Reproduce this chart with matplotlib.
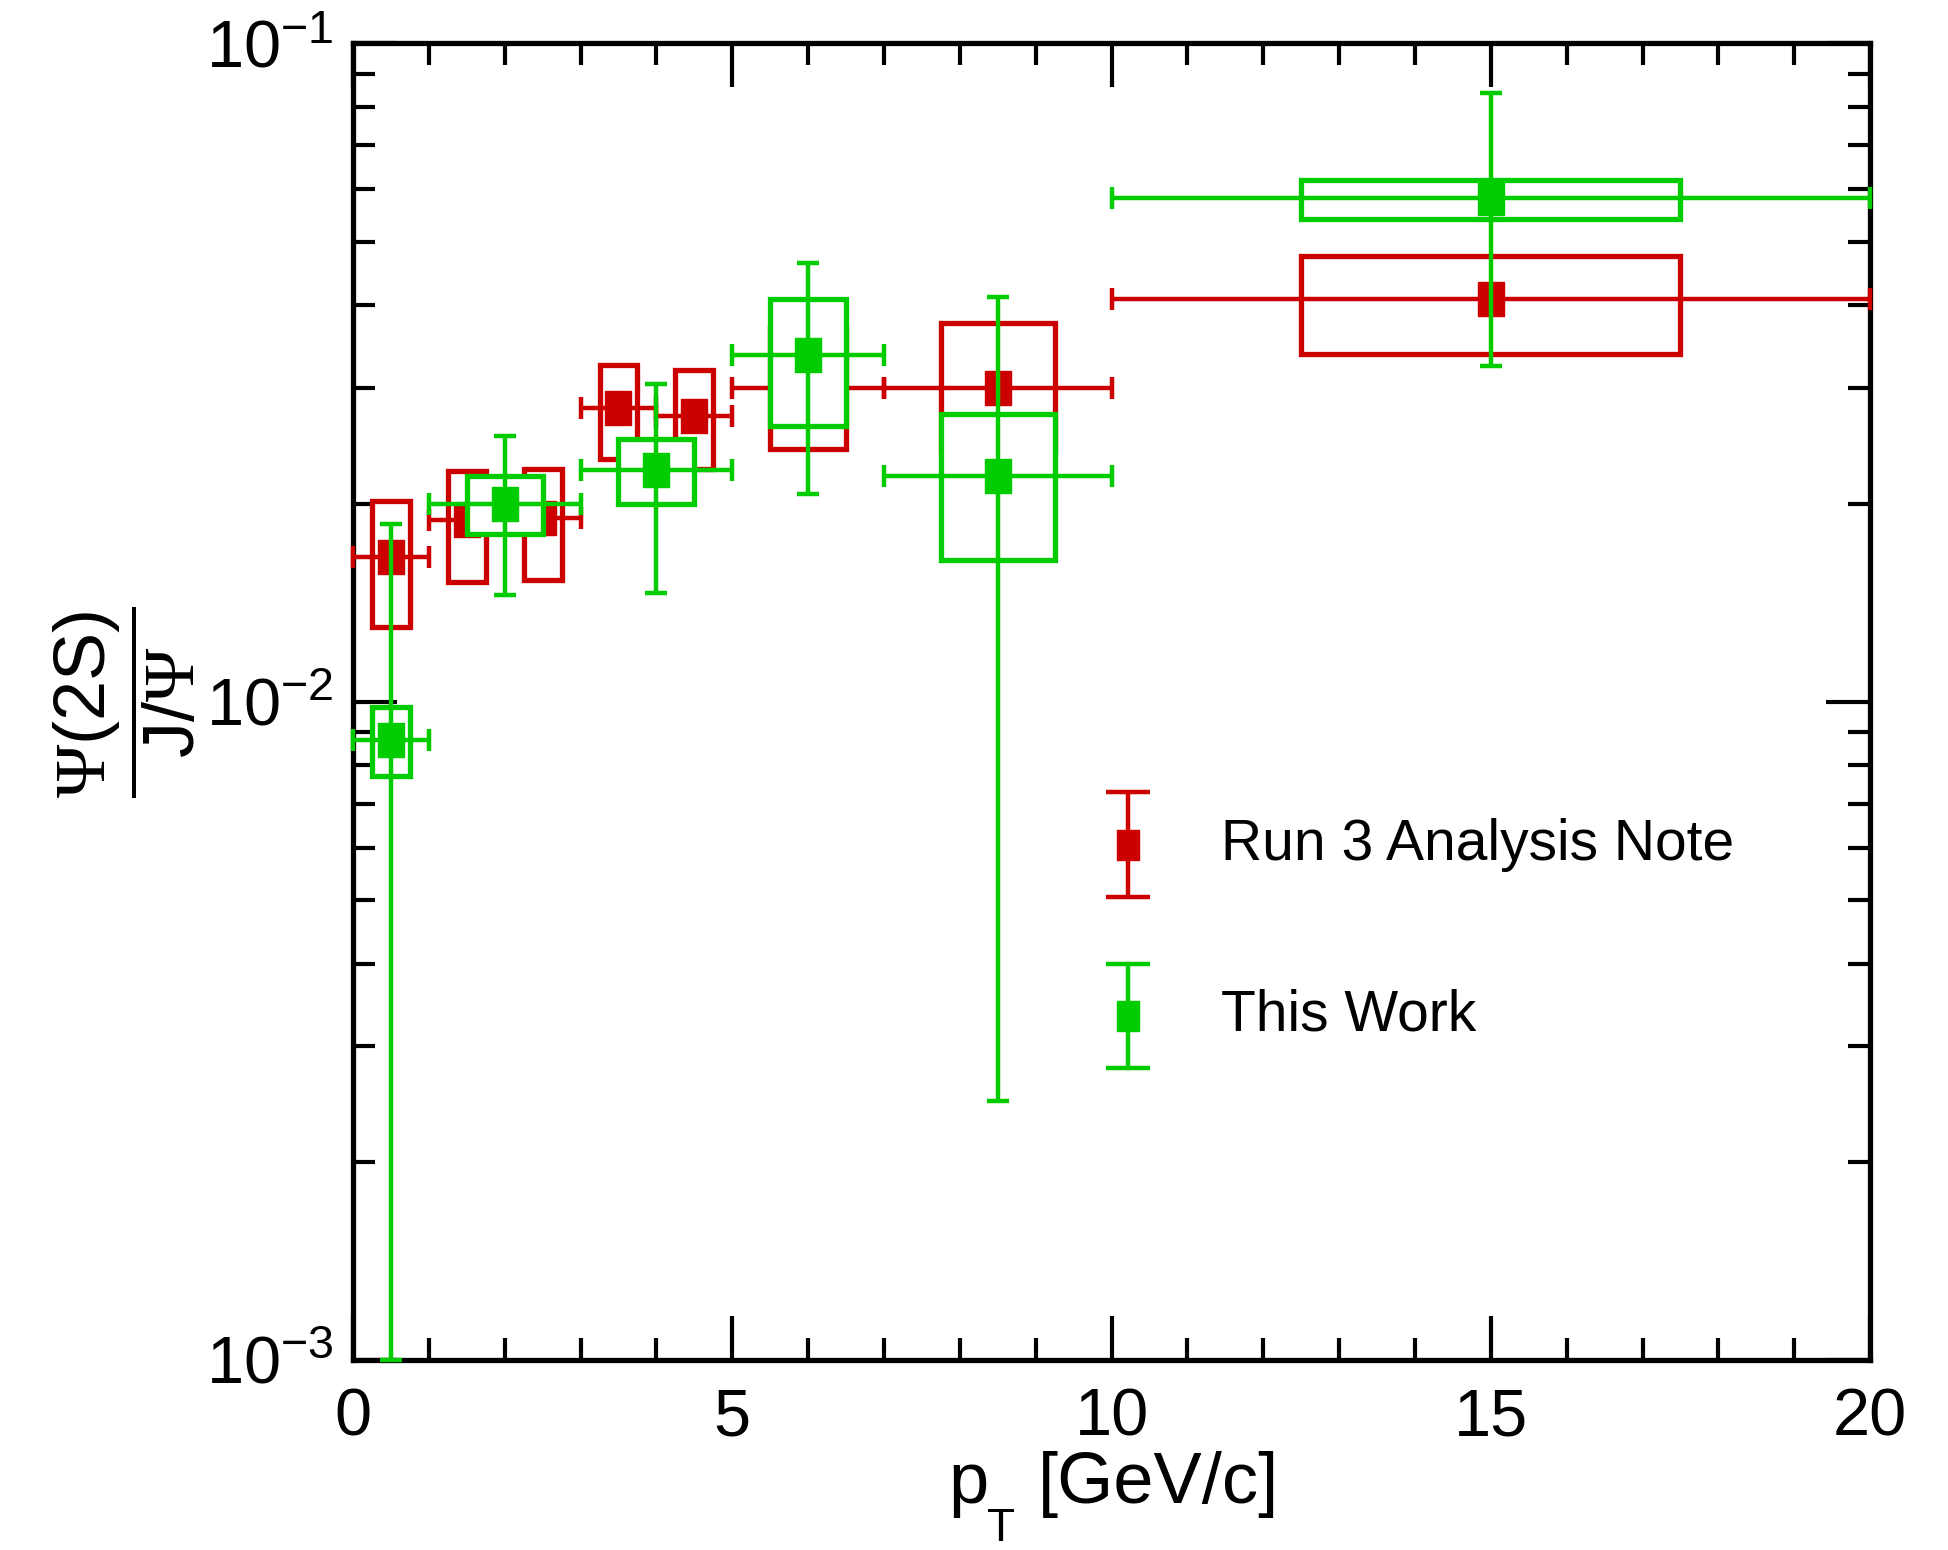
import numpy as np
import matplotlib
matplotlib.use('Agg')
import matplotlib.pyplot as plt
from matplotlib.patches import Rectangle
from matplotlib.path import Path
from matplotlib.ticker import MultipleLocator, LogLocator, NullFormatter, LogFormatterMathtext

# ---------------- data ----------------
# Run 3 Analysis Note
red_x = [0.5, 1.5, 2.5, 3.5, 4.5, 6.0, 8.5, 15.0]
red_xlo = [0, 1, 2, 3, 4, 5, 7, 10]
red_xhi = [1, 2, 3, 4, 5, 7, 10, 20]
red_y = [0.0166, 0.0189, 0.0190, 0.0279, 0.0272, 0.0300, 0.0300, 0.0409]
red_stat = [0.0006, 0.0007, 0.0007, 0.0009, 0.0009, 0.0010, 0.0010, 0.0013]
red_sys_lo = [0.0130, 0.0152, 0.0153, 0.0234, 0.0226, 0.0242, 0.0240, 0.0337]
red_sys_hi = [0.0202, 0.0224, 0.0226, 0.0325, 0.0319, 0.0370, 0.0376, 0.0476]

# This Work
green_x = [0.5, 2.0, 4.0, 6.0, 8.5, 15.0]
green_xlo = [0, 1, 3, 5, 7, 10]
green_xhi = [1, 3, 5, 7, 10, 20]
green_y = [0.00876, 0.0200, 0.0225, 0.0336, 0.0220, 0.0583]
green_stat_lo = [0.0010, 0.0145, 0.0146, 0.0207, 0.00247, 0.0323]
green_stat_hi = [0.0186, 0.0253, 0.0304, 0.0464, 0.0412, 0.0840]
green_sys_lo = [0.00770, 0.0180, 0.0200, 0.0262, 0.0164, 0.0542]
green_sys_hi = [0.00980, 0.0220, 0.0251, 0.0409, 0.0274, 0.0620]

labels = ["Run 3 Analysis Note", "This Work"]
RED = "#cc0000"
GREEN = "#00cc00"

plt.rcParams['font.family'] = ['Liberation Sans', 'DejaVu Sans']
plt.rcParams['mathtext.fontset'] = 'custom'
plt.rcParams['mathtext.rm'] = 'Liberation Serif'
plt.rcParams['mathtext.sf'] = 'Liberation Sans'
plt.rcParams['mathtext.it'] = 'Liberation Serif:italic'

fig = plt.figure(figsize=(19.48, 15.5), dpi=100)
ax = fig.add_axes([0.1812, 0.1226, 0.960 - 0.1812, 0.972 - 0.1226])

# rectangular (slightly tall) marker
rect_marker = Path([(-0.76, -1), (0.76, -1), (0.76, 1), (-0.76, 1), (-0.76, -1)],
                   [Path.MOVETO, Path.LINETO, Path.LINETO, Path.LINETO, Path.CLOSEPOLY])
MS = 25
LW = 3.2
BLW = 3.8


def draw_series(x, xlo, xhi, y, ylo_err, yhi_err, slo, shi, color, z):
    x = np.asarray(x, float)
    xlo = np.asarray(xlo, float)
    xhi = np.asarray(xhi, float)
    for xi, a, b, lo, hi in zip(x, xlo, xhi, slo, shi):
        w = (b - a) / 2.0
        ax.add_patch(Rectangle((xi - w / 2, lo), w, hi - lo, facecolor='white',
                               edgecolor=color, lw=BLW, zorder=z, joinstyle='miter'))
    ax.errorbar(x, y, xerr=[x - xlo, xhi - x], yerr=[ylo_err, yhi_err],
                fmt='none', ecolor=color, elinewidth=LW, capsize=8, capthick=LW,
                zorder=z + 1, clip_on=False)
    ax.plot(x, y, linestyle='none', marker=rect_marker, ms=MS, color=color,
            mec=color, zorder=z + 2, clip_on=False)


draw_series(red_x, red_xlo, red_xhi, red_y, red_stat, red_stat,
            red_sys_lo, red_sys_hi, RED, 2)
gy = np.asarray(green_y)
draw_series(green_x, green_xlo, green_xhi, green_y,
            gy - np.asarray(green_stat_lo), np.asarray(green_stat_hi) - gy,
            green_sys_lo, green_sys_hi, GREEN, 6)

ax.set_yscale('log')
ax.set_xlim(0, 20)
ax.set_ylim(1e-3, 1e-1)

ax.xaxis.set_major_locator(MultipleLocator(5))
ax.xaxis.set_minor_locator(MultipleLocator(1))
ax.yaxis.set_major_locator(LogLocator(base=10))
ax.yaxis.set_minor_locator(LogLocator(base=10, subs=np.arange(2, 10)))
ax.yaxis.set_major_formatter(LogFormatterMathtext())
ax.yaxis.set_minor_formatter(NullFormatter())

ax.tick_params(which='both', direction='in', top=True, right=True, width=3,
               labelsize=48, color='black')
ax.tick_params(which='major', length=32)
ax.tick_params(which='minor', length=16)
ax.tick_params(axis='x', pad=20)
ax.tick_params(axis='y', pad=14)
for s in ax.spines.values():
    s.set_linewidth(3.8)

# x-axis title: p with a large, low subscript T (ROOT style)
fig.text(0.4867, 0.0300, 'p', ha='left', va='baseline', fontsize=52)
fig.text(0.5139, 0.0060, 'T', ha='center', va='baseline', fontsize=33)
fig.text(0.5329, 0.0300, '[GeV/c]', ha='left', va='baseline', fontsize=52)

fig.text(0.064, 0.547, r'$\dfrac{\Psi\mathsf{(2S)}}{\mathsf{J/}\Psi}$', rotation=90,
         ha='center', va='center', fontsize=52)

# legend (manual)
for yy, col, lab in [(0.3915, RED, labels[0]), (0.2613, GREEN, labels[1])]:
    ax.errorbar([0.511], [yy], yerr=[[0.0396], [0.0396]], transform=ax.transAxes,
                fmt='none', ecolor=col, elinewidth=LW, capsize=16, capthick=LW,
                zorder=10)
    ax.plot([0.511], [yy], transform=ax.transAxes, linestyle='none',
            marker=rect_marker, ms=21, color=col, zorder=11)
    ax.text(0.572, yy, lab, transform=ax.transAxes, ha='left', va='center',
            fontsize=41)

fig.savefig('out.png', dpi=100, facecolor='white')
